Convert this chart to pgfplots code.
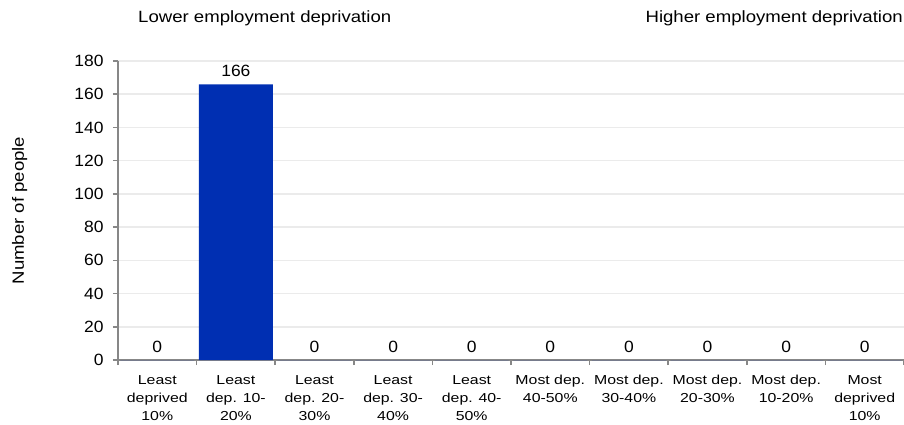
\documentclass[border=0pt]{standalone}
\usepackage{fontspec}
\setmainfont{Liberation Sans}[FakeStretch=1.14]
\newfontfamily\numfont{Liberation Sans}[FakeStretch=1.07]
\newfontfamily\lblfont{Liberation Sans}[FakeStretch=1.22]
\usepackage{pgfplots}
\pgfplotsset{compat=1.18}
\definecolor{barblue}{RGB}{0,47,178}
\definecolor{axgray}{RGB}{135,135,135}
\definecolor{gridgray}{RGB}{235,235,235}
\begin{document}
\begin{tikzpicture}
\begin{axis}[
  name=ax,
  at={(0pt,0pt)}, anchor=south west,
  scale only axis, width=786pt, height=299pt,
  xmin=-0.5, xmax=9.5, ymin=0, ymax=180,
  ytick={0,20,...,180},
  ymajorgrids, grid style={gridgray, line width=1.5pt},
  axis x line*=bottom, axis y line*=left,
  axis line style={axgray, line width=1.8pt, -},
  tick align=outside, major tick length=5pt,
  tick style={axgray, line width=1.5pt},
  xtick={-0.5,0.5,...,9.5}, xticklabels={},
  /pgf/number format/assume math mode=true,
  yticklabel style={font=\numfont\fontsize{16.3}{18}\selectfont, xshift=-6pt},
  extra x ticks={0,1,...,9},
  extra x tick labels={Least\\deprived\\10\%, Least\\dep. 10-\\20\%, Least\\dep. 20-\\30\%, Least\\dep. 30-\\40\%, Least\\dep. 40-\\50\%, Most dep.\\40-50\%, Most dep.\\30-40\%, Most dep.\\20-30\%, Most dep.\\10-20\%, Most\\deprived\\10\%},
  extra x tick style={major tick length=0pt, grid=none,
    tick label style={align=center, font=\lblfont\fontsize{13}{18}\selectfont, yshift=-12pt}},
  ylabel={Number of people},
  ylabel style={at={(axis description cs:-0.125,0.5)}, anchor=center, font=\fontsize{16.3}{18}\selectfont},
  nodes near coords,
  every node near coord/.append style={font=\numfont\fontsize{16.3}{18}\selectfont, anchor=south, inner sep=0pt, yshift=7pt, text=black},
]
\addplot[ybar, bar width=0.94, fill=barblue, draw=none] coordinates {
  (0,0) (1,166) (2,0) (3,0) (4,0) (5,0) (6,0) (7,0) (8,0) (9,0)
};
\end{axis}
\node[anchor=base west, inner sep=0pt, font=\fontsize{16.3}{18}\selectfont] at ([xshift=20pt,yshift=337pt]ax.south west) {Lower employment deprivation};
\node[anchor=base east, inner sep=0pt, font=\fontsize{16.3}{18}\selectfont] at ([xshift=-1pt,yshift=337pt]ax.south east) {Higher employment deprivation};
\pgfresetboundingbox
\path (-118pt,-65pt) rectangle (786pt,360pt);
\end{tikzpicture}
\end{document}
